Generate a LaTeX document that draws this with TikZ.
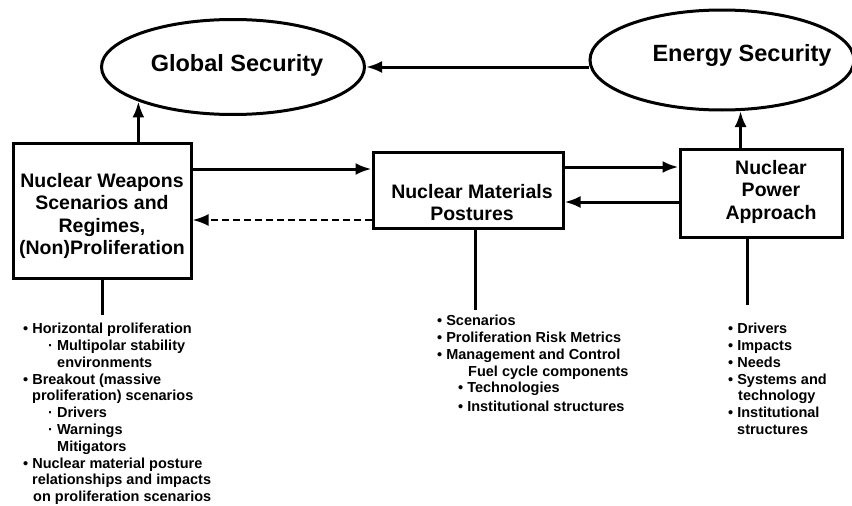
\documentclass[tikz,border=0pt]{standalone}
\usepackage{fontspec}
\setmainfont{Liberation Sans}
\usetikzlibrary{shapes.geometric,arrows.meta,calc}
\begin{document}
\begin{tikzpicture}[x=1pt,y=-1pt,
  ell/.style={draw, ellipse, line width=3pt, inner sep=0pt},
  elltext/.style={anchor=base, inner sep=0pt, font=\bfseries\fontsize{23.5}{26}\selectfont},
  box/.style={draw, rectangle, line width=3pt, inner sep=0pt},
  boxtext/.style={anchor=north, align=center, inner sep=0pt, font=\bfseries\fontsize{19.5}{22.5}\selectfont},
  arr/.style={line width=3pt, -{Latex[length=16pt,width=12pt]}},
  dasharr/.style={line width=2.5pt, dash pattern=on 7pt off 4pt, -{Latex[length=16pt,width=12pt]}},
  stem/.style={line width=3pt},
  list/.style={align=left, inner sep=0pt, anchor=north west, font=\bfseries\fontsize{14.5}{16.8}\selectfont}
]
\useasboundingbox (0,0) rectangle (852,506);

% ellipses
\node[ell, minimum width=263pt, minimum height=95pt] (G) at (233,67) {};
\node[elltext] (Gt) at (237,71.5) {Global Security};
\node[ell, minimum width=264pt, minimum height=100pt] (E) at (722,60) {};
\node[elltext] (Et) at (742,61.5) {Energy Security};

% boxes
\node[box, minimum width=178pt, minimum height=135pt] (L) at (102,210.5) {};
\node[boxtext] (Lt) at (102,173) {Nuclear Weapons\\Scenarios and\\Regimes,\\(Non)Proliferation};
\node[box, minimum width=190pt, minimum height=76pt] (M) at (468,190) {};
\node[boxtext] (Mt) at (472,184) {Nuclear Materials\\Postures};
\node[box, minimum width=162pt, minimum height=88pt] (R) at (761,193) {};
\node[boxtext] (Rt) at (771,160) {Nuclear\\Power\\Approach};

% connectors
\draw[arr] (E.west |- G.east) -- (G.east);
\draw[arr] (L.north -| G.200) -- (G.200);
\draw[arr] (R.north -| E.290) -- (E.290);

\coordinate (a1) at ([yshift=21pt]M.west);
\coordinate (a2) at ([yshift=23pt]M.east);
\coordinate (a3) at ([yshift=-12pt]M.east);
\coordinate (a4) at ([yshift=-30pt]M.west);
\draw[arr] (a1 -| L.east) -- (a1);
\draw[arr] (a2) -- (a2 -| R.west);
\draw[arr] (a3 -| R.west) -- (a3);
\draw[dasharr] (a4) -- (a4 -| L.east);

% stems
\coordinate (ls) at ([yshift=-35pt]L.south);
\draw[stem] (L.south) -- (ls);
\coordinate (mt) at ([xshift=7pt]M.south);
\coordinate (ms) at ([xshift=7pt,yshift=-80pt]M.south);
\draw[stem] (mt) -- (ms);
\coordinate (rt) at ([xshift=-14pt]R.south);
\coordinate (rs) at ([xshift=-14pt,yshift=-66pt]R.south);
\draw[stem] (rt) -- (rs);

% lists
\node[list] (LL) at (23,323) {%
•\ Horizontal proliferation\\
\hspace*{25pt}·\ Multipolar stability\\
\hspace*{34pt}environments\\
•\ Breakout (massive\\
\hspace*{9pt}proliferation) scenarios\\
\hspace*{25pt}·\ Drivers\\
\hspace*{25pt}·\ Warnings\\
\hspace*{34pt}Mitigators\\
•\ Nuclear material posture\\
\hspace*{9pt}relationships and impacts\\
\hspace*{10pt}on proliferation scenarios};

\node[list] (ML) at (437,315) {%
•\ Scenarios\\
•\ Proliferation Risk Metrics\\
•\ Management and Control\\
\hspace*{31pt}Fuel cycle components\\
\hspace*{21pt}•\ Technologies\\[2pt]
\hspace*{21pt}•\ Institutional structures};

\node[list] (RL) at (728,323) {%
•\ Drivers\\
•\ Impacts\\
•\ Needs\\
•\ Systems and\\
\hspace*{10pt}technology\\
•\ Institutional\\
\hspace*{9pt}structures};
\end{tikzpicture}
\end{document}
